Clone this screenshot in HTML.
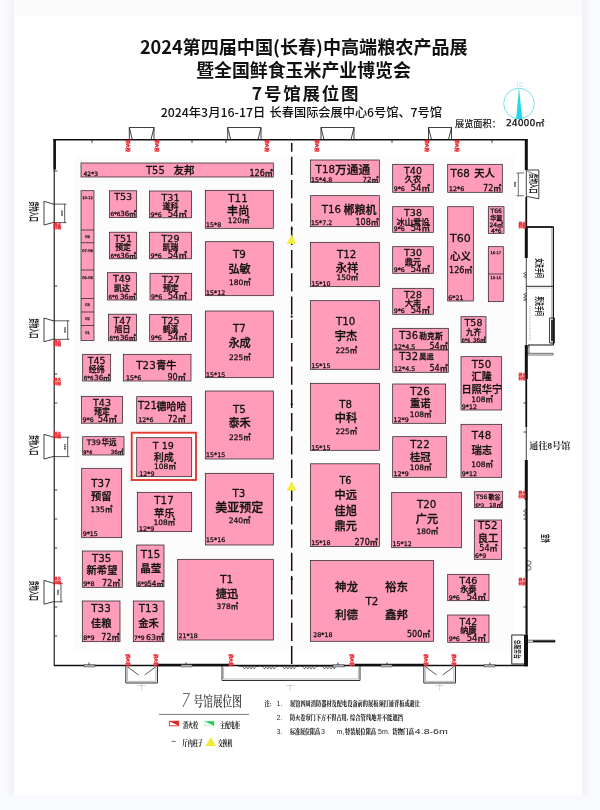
<!DOCTYPE html>
<html lang="zh-CN"><head><meta charset="utf-8"><title>7号馆展位图</title>
<style>
html,body{margin:0;padding:0;background:#f9fafe;}
body{width:600px;height:810px;overflow:hidden;position:relative;font-family:'DejaVu Sans','Liberation Sans','Noto Sans CJK SC',sans-serif;}
.panel{position:absolute;left:14px;top:0;width:568px;height:794.5px;background:#fff;}
.shl{position:absolute;left:5px;top:0;width:9px;height:794.5px;background:linear-gradient(to right,rgba(120,125,140,0),rgba(120,125,140,.065));}
.shr{position:absolute;left:582px;top:0;width:9px;height:794.5px;background:linear-gradient(to left,rgba(120,125,140,0),rgba(120,125,140,.065));}
.strip{position:absolute;left:14px;top:0;width:568px;height:16px;background:#fbfbfb;}
.hall{position:absolute;left:73.5px;top:155px;width:440px;height:496px;background:#fdfcfc;}
svg{position:absolute;left:0;top:0;will-change:transform;}
svg{font-family:'DejaVu Sans','Liberation Sans','Noto Sans CJK SC',sans-serif;}
#booths text{stroke:#111;stroke-width:.26px;font-weight:500;}
</style></head><body>
<div class="shl"></div><div class="shr"></div><div class="panel"></div><div class="strip"></div><div class="hall"></div>
<svg width="600" height="810" viewBox="0 0 600 810">
<g id="structure">
<path d="M53.3,139.7 H527.8 " stroke="#111" stroke-width="1.5" fill="none"/>
<path d="M54.2,139.6 V666" stroke="#111" stroke-width="1.1" fill="none"/>
<path d="M54.7,139.2 V169.5" stroke="#111" stroke-width="2.5" fill="none"/>
<path d="M54,665.5 H526.5" stroke="#111" stroke-width="1.3" fill="none"/>
<path d="M526.3,139.6 V666" stroke="#111" stroke-width="0.8" fill="none"/>
<path d="M526.3,139.4 V170 M526.3,227 V258 M526.3,345 V379 M526.3,460 V500" stroke="#111" stroke-width="3.0" fill="none"/>
<path d="M526.3,379 V427 M526.3,197 V227" stroke="#111" stroke-width="1.7" fill="none"/>
<path d="M526.6,500 V666.2" stroke="#111" stroke-width="2.1" fill="none"/>
<path d="M157.5,665 H229 M355,665 H424" stroke="#111" stroke-width="2.4" fill="none"/>
<path d="M129.3,139.6 V127.5 H154 V139.6 M129.3,127.5 L132.3,139.6 M154,127.5 L151,139.6" stroke="#111" stroke-width="0.8" fill="none"/>
<path d="M227.7,139.6 V127.5 H261 V139.6 M227.7,127.5 L230.7,139.6 M261,127.5 L258,139.6" stroke="#111" stroke-width="0.8" fill="none"/>
<path d="M321,139.6 V127.5 H354 V139.6 M321,127.5 L324,139.6 M354,127.5 L351,139.6" stroke="#111" stroke-width="0.8" fill="none"/>
<path d="M428.5,139.6 V127.5 H451.5 V139.6 M428.5,127.5 L431.5,139.6 M451.5,127.5 L448.5,139.6" stroke="#111" stroke-width="0.8" fill="none"/>
<line x1="92.00" y1="140.00" x2="92.00" y2="143.00" stroke="#111" stroke-width="0.8"/>
<line x1="192.00" y1="140.00" x2="192.00" y2="143.00" stroke="#111" stroke-width="0.8"/>
<line x1="226.00" y1="140.00" x2="226.00" y2="143.00" stroke="#111" stroke-width="0.8"/>
<line x1="392.00" y1="140.00" x2="392.00" y2="143.00" stroke="#111" stroke-width="0.8"/>
<line x1="492.00" y1="140.00" x2="492.00" y2="143.00" stroke="#111" stroke-width="0.8"/>
<line x1="54.30" y1="171.00" x2="57.30" y2="171.00" stroke="#111" stroke-width="0.8"/>
<line x1="54.30" y1="286.00" x2="57.30" y2="286.00" stroke="#111" stroke-width="0.8"/>
<line x1="54.30" y1="374.00" x2="57.30" y2="374.00" stroke="#111" stroke-width="0.8"/>
<line x1="54.30" y1="403.00" x2="57.30" y2="403.00" stroke="#111" stroke-width="0.8"/>
<line x1="54.30" y1="490.00" x2="57.30" y2="490.00" stroke="#111" stroke-width="0.8"/>
<line x1="54.30" y1="519.00" x2="57.30" y2="519.00" stroke="#111" stroke-width="0.8"/>
<line x1="54.30" y1="548.00" x2="57.30" y2="548.00" stroke="#111" stroke-width="0.8"/>
<line x1="54.30" y1="607.00" x2="57.30" y2="607.00" stroke="#111" stroke-width="0.8"/>
<line x1="54.30" y1="636.00" x2="57.30" y2="636.00" stroke="#111" stroke-width="0.8"/>
<line x1="523.50" y1="300.00" x2="526.30" y2="300.00" stroke="#111" stroke-width="0.8"/>
<line x1="523.50" y1="403.00" x2="526.30" y2="403.00" stroke="#111" stroke-width="0.8"/>
<line x1="523.50" y1="432.00" x2="526.30" y2="432.00" stroke="#111" stroke-width="0.8"/>
<line x1="523.50" y1="519.00" x2="526.30" y2="519.00" stroke="#111" stroke-width="0.8"/>
<line x1="523.50" y1="548.00" x2="526.30" y2="548.00" stroke="#111" stroke-width="0.8"/>
<line x1="523.50" y1="607.00" x2="526.30" y2="607.00" stroke="#111" stroke-width="0.8"/>
<line x1="89.00" y1="662.50" x2="89.00" y2="665.50" stroke="#111" stroke-width="0.8"/>
<line x1="186.00" y1="662.50" x2="186.00" y2="665.50" stroke="#111" stroke-width="0.8"/>
<line x1="338.00" y1="662.50" x2="338.00" y2="665.50" stroke="#111" stroke-width="0.8"/>
<line x1="387.00" y1="662.50" x2="387.00" y2="665.50" stroke="#111" stroke-width="0.8"/>
<line x1="490.00" y1="662.50" x2="490.00" y2="665.50" stroke="#111" stroke-width="0.8"/>
<path d="M54,204.3 L44,201.3 V225 L54,222.3" stroke="#111" stroke-width="0.8" fill="none"/>
<path d="M54,204.10000000000002 H66.4 M54,222.6 H66.4 M64.7,204.10000000000002 V222.6" stroke="#111" stroke-width="0.7" fill="none"/>
<text transform="translate(30.4,211.6) rotate(90) scale(0.48,1)" font-size="10.5" text-anchor="middle" font-family="'Noto Sans CJK SC',sans-serif" fill="#222" font-weight="700">货物入口</text>
<text transform="translate(61.1,213.2) rotate(90)" font-size="2.8" text-anchor="middle" fill="#222" font-weight="700">600</text>
<path d="M54,321 L44,318 V341.7 L54,339.0" stroke="#111" stroke-width="0.8" fill="none"/>
<path d="M54,320.8 H69.4 M54,339.3 H69.4 M67.7,320.8 V339.3" stroke="#111" stroke-width="0.7" fill="none"/>
<text transform="translate(30.4,328.2) rotate(90) scale(0.48,1)" font-size="10.5" text-anchor="middle" font-family="'Noto Sans CJK SC',sans-serif" fill="#222" font-weight="700">货物入口</text>
<text transform="translate(64.10000000000001,329.9) rotate(90)" font-size="2.8" text-anchor="middle" fill="#222" font-weight="700">600</text>
<path d="M54,437.4 L44,434.4 V459 L54,456.3" stroke="#111" stroke-width="0.8" fill="none"/>
<path d="M54,437.2 H69.4 M54,456.6 H69.4 M67.7,437.2 V456.6" stroke="#111" stroke-width="0.7" fill="none"/>
<text transform="translate(30.4,445.1) rotate(90) scale(0.48,1)" font-size="10.5" text-anchor="middle" font-family="'Noto Sans CJK SC',sans-serif" fill="#222" font-weight="700">货物入口</text>
<text transform="translate(64.10000000000001,446.7) rotate(90)" font-size="2.8" text-anchor="middle" fill="#222" font-weight="700">600</text>
<path d="M54,583.4 L44,580.4 V604.2 L54,601.5" stroke="#111" stroke-width="0.8" fill="none"/>
<path d="M54,583.1999999999999 H62.7 M54,601.8000000000001 H62.7 M61,583.1999999999999 V601.8000000000001" stroke="#111" stroke-width="0.7" fill="none"/>
<text transform="translate(30.4,590.7) rotate(90) scale(0.48,1)" font-size="10.5" text-anchor="middle" font-family="'Noto Sans CJK SC',sans-serif" fill="#222" font-weight="700">货物入口</text>
<text transform="translate(57.4,592.3) rotate(90)" font-size="2.8" text-anchor="middle" fill="#222" font-weight="700">600</text>
<path d="M527,170 H538.8 V198.7 L527,196.5" stroke="#111" stroke-width="0.8" fill="none"/>
<path d="M527.5,171.5 L538.8,176" stroke="#111" stroke-width="0.6" fill="none"/>
<path d="M524,173 H516.5 M524,195.8 H516.5 M518.3,173 V195.8" stroke="#333" stroke-width="0.7" fill="none"/>
<text transform="translate(529.8,183.6) rotate(90) scale(0.55,1)" font-size="9" text-anchor="middle" font-family="'Noto Sans CJK SC',sans-serif" fill="#222" font-weight="700">货物入口</text>
<text transform="translate(514.3,184.3) rotate(90)" font-size="2.8" text-anchor="middle" fill="#222" font-weight="700">600</text>
<path d="M526.3,227 H553.5" stroke="#111" stroke-width="1.8" fill="none"/>
<path d="M553.5,227 V345 H528" stroke="#111" stroke-width="1.0" fill="none"/>
<path d="M552,228 V345" stroke="#666" stroke-width="0.8" fill="none"/>
<path d="M526.3,286.3 H553.5" stroke="#111" stroke-width="0.9" fill="none"/>
<path d="M529,288 H551" stroke="#555" stroke-width="0.5" fill="none" stroke-dasharray="1 1.2"/>
<path d="M530,306 V340" stroke="#444" stroke-width="0.5" fill="none" stroke-dasharray="1 1.2"/>
<path d="M549.5,318 H554.5 V343 H549.5 Z" stroke="#111" stroke-width="0.8" fill="none"/>
<path d="M552,320 V341" stroke="#111" stroke-width="1.6" fill="none"/>
<path d="M526.3,353.3 H553 M526.3,355 H553 M553,353.3 V355" stroke="#111" stroke-width="0.6" fill="none"/>
<path d="M526.3,345 V353 M529,345 V353 M526.3,349 L529,346" stroke="#111" stroke-width="0.6" fill="none"/>
<text transform="translate(535.6,268.0) rotate(90) scale(0.57,1)" font-size="8.6" text-anchor="middle" font-family="'Noto Sans CJK SC',sans-serif" fill="#222" font-weight="700">女洗手间</text>
<text transform="translate(535.6,306.0) rotate(90) scale(0.57,1)" font-size="8.6" text-anchor="middle" font-family="'Noto Sans CJK SC',sans-serif" fill="#222" font-weight="700">男洗手间</text>
<path d="M526.3,272 L523.6,273.5 L526.3,275 L523.6,276.5 L526.3,278" stroke="#111" stroke-width="0.6" fill="none" fill="none"/>
<path d="M526.3,293 L523.6,294.5 L526.3,296 L523.6,297.5 L526.3,299" stroke="#111" stroke-width="0.6" fill="none" fill="none"/>
<path d="M526.3,509 L523.5,511 L526.3,513 L523.5,515 L526.3,517" stroke="#111" stroke-width="0.6" fill="none"/>
<path d="M526.3,561 H529 a2,2 0 0 1 0,4 H526.3 M526.3,566 H529 a2,2 0 0 1 0,4 H526.3" stroke="#111" stroke-width="0.6" fill="none"/>
<text x="529.30" y="448.60" font-size="9.1" font-family="'Liberation Serif','Noto Serif CJK SC',serif" font-weight="700" fill="#222">通往8号馆</text>
<text transform="translate(541.8,538.4) rotate(90) scale(0.52,1)" font-size="8.6" text-anchor="middle" font-family="'Noto Sans CJK SC',sans-serif" fill="#222" font-weight="700">室外</text>
<rect x="511.80" y="635.00" width="12.70" height="29.00" fill="#fff" stroke="#111" stroke-width="0.9"/>
<path d="M526,635 V666.3" stroke="#111" stroke-width="4" fill="none"/>
<text transform="translate(515,649.2) rotate(90) scale(0.64,1)" font-size="7.4" text-anchor="middle" font-family="'Noto Sans CJK SC',sans-serif" fill="#222" font-weight="700">总服务台</text>
<path d="M528,640.2 H555 V642.2 H528" stroke="#111" stroke-width="0.6" fill="none"/>
<path d="M533,641.2 H555" stroke="#111" stroke-width="1.6" fill="none"/>
<path d="M125.8,666 V683 H157.5 V666" stroke="#333" stroke-width="1.0" fill="none"/>
<path d="M127.39999999999999,666 V681.4 H155.9 V666" stroke="#999" stroke-width="0.7" fill="none"/>
<path d="M127.8,667 L138.65,675 M155.5,667 L144.65,675" stroke="#111" stroke-width="0.7" fill="none"/>
<path d="M141.65,684 V691 M137.65,685.5 H145.65" stroke="#bbb" stroke-width="0.6" fill="none"/>
<path d="M423.8,666 V683 H455.5 V666" stroke="#333" stroke-width="1.0" fill="none"/>
<path d="M425.40000000000003,666 V681.4 H453.9 V666" stroke="#999" stroke-width="0.7" fill="none"/>
<path d="M425.8,667 L436.65,675 M453.5,667 L442.65,675" stroke="#111" stroke-width="0.7" fill="none"/>
<path d="M439.65,684 V691 M435.65,685.5 H443.65" stroke="#bbb" stroke-width="0.6" fill="none"/>
<path d="M222,666 V680.5 H360 V666" stroke="#333" stroke-width="1.0" fill="none"/>
<path d="M223.6,667.5 V679 H358.4 V667.5" stroke="#999" stroke-width="0.7" fill="none"/>
<path d="M290,684 V691 M286,685.5 H294" stroke="#bbb" stroke-width="0.6" fill="none"/>
<path d="M241,666.5 H243 l1.6,2.6 l1.6,-2.6 l1.6,2.6 l1.6,-2.6 l1.6,2.6 l1.6,-2.6 l1.6,2.6 l1.6,-2.6 H259" stroke="#111" stroke-width="0.55" fill="none"/>
<path d="M261,666.5 H263 l1.6,2.6 l1.6,-2.6 l1.6,2.6 l1.6,-2.6 l1.6,2.6 l1.6,-2.6 l1.6,2.6 l1.6,-2.6 H279" stroke="#111" stroke-width="0.55" fill="none"/>
<path d="M281,666.5 H283 l1.6,2.6 l1.6,-2.6 l1.6,2.6 l1.6,-2.6 l1.6,2.6 l1.6,-2.6 l1.6,2.6 l1.6,-2.6 H299" stroke="#111" stroke-width="0.55" fill="none"/>
<path d="M301,666.5 H303 l1.6,2.6 l1.6,-2.6 l1.6,2.6 l1.6,-2.6 l1.6,2.6 l1.6,-2.6 l1.6,2.6 l1.6,-2.6 H319" stroke="#111" stroke-width="0.55" fill="none"/>
<path d="M321,666.5 H323 l1.6,2.6 l1.6,-2.6 l1.6,2.6 l1.6,-2.6 l1.6,2.6 l1.6,-2.6 l1.6,2.6 l1.6,-2.6 H339" stroke="#111" stroke-width="0.55" fill="none"/>
<path d="M238,666.3 H345" stroke="#111" stroke-width="0.6" fill="none"/>
<rect x="84.00" y="664.80" width="11.00" height="2.20" fill="#aaa" stroke="#333" stroke-width="0.4"/>
<rect x="181.00" y="664.80" width="11.00" height="2.20" fill="#aaa" stroke="#333" stroke-width="0.4"/>
<rect x="333.00" y="664.80" width="11.00" height="2.20" fill="#aaa" stroke="#333" stroke-width="0.4"/>
<rect x="381.00" y="664.80" width="11.00" height="2.20" fill="#aaa" stroke="#333" stroke-width="0.4"/>
<rect x="484.00" y="664.80" width="11.00" height="2.20" fill="#aaa" stroke="#333" stroke-width="0.4"/>
<path d="M291.7,143 V664" stroke="#111" stroke-width="1.5" fill="none" stroke-dasharray="18.3 5" stroke-dashoffset="9.6"/>
<circle cx="291.7" cy="229" r="1.1" fill="#111"/>
<circle cx="291.7" cy="316.7" r="1.1" fill="#111"/>
<circle cx="291.7" cy="404.3" r="1.1" fill="#111"/>
<circle cx="291.7" cy="579" r="1.1" fill="#111"/>
<path d="M286.8,243.70000000000002 L291.5,234.9 L296.2,243.70000000000002 Z" stroke="#f2ea35" stroke-width="0.3" fill="#f5ee3a"/>
<path d="M286.8,490.4 L291.5,481.6 L296.2,490.4 Z" stroke="#f2ea35" stroke-width="0.3" fill="#f5ee3a"/>
<text transform="translate(126.2,139.5) rotate(90)" font-size="4.1" font-family="'Liberation Serif','Noto Serif CJK SC',serif" font-weight="900" fill="#e8202a" stroke="#e8202a" stroke-width="0.3">消火栓</text>
<text transform="translate(154.7,139.5) rotate(90)" font-size="4.1" font-family="'Liberation Serif','Noto Serif CJK SC',serif" font-weight="900" fill="#e8202a" stroke="#e8202a" stroke-width="0.3">消火栓</text>
<text transform="translate(265.2,139.5) rotate(90)" font-size="4.1" font-family="'Liberation Serif','Noto Serif CJK SC',serif" font-weight="900" fill="#e8202a" stroke="#e8202a" stroke-width="0.3">消火栓</text>
<text transform="translate(314.7,139.5) rotate(90)" font-size="4.1" font-family="'Liberation Serif','Noto Serif CJK SC',serif" font-weight="900" fill="#e8202a" stroke="#e8202a" stroke-width="0.3">消火栓</text>
<text transform="translate(424.7,139.5) rotate(90)" font-size="4.1" font-family="'Liberation Serif','Noto Serif CJK SC',serif" font-weight="900" fill="#e8202a" stroke="#e8202a" stroke-width="0.3">消火栓</text>
<text transform="translate(454.7,139.5) rotate(90)" font-size="4.1" font-family="'Liberation Serif','Noto Serif CJK SC',serif" font-weight="900" fill="#e8202a" stroke="#e8202a" stroke-width="0.3">消火栓</text>
<text transform="translate(126.2,654) rotate(90)" font-size="4.1" font-family="'Liberation Serif','Noto Serif CJK SC',serif" font-weight="900" fill="#e8202a" stroke="#e8202a" stroke-width="0.3">消火栓</text>
<text transform="translate(154.2,654) rotate(90)" font-size="4.1" font-family="'Liberation Serif','Noto Serif CJK SC',serif" font-weight="900" fill="#e8202a" stroke="#e8202a" stroke-width="0.3">消火栓</text>
<text transform="translate(229.2,654) rotate(90)" font-size="4.1" font-family="'Liberation Serif','Noto Serif CJK SC',serif" font-weight="900" fill="#e8202a" stroke="#e8202a" stroke-width="0.3">消火栓</text>
<text transform="translate(350.2,654) rotate(90)" font-size="4.1" font-family="'Liberation Serif','Noto Serif CJK SC',serif" font-weight="900" fill="#e8202a" stroke="#e8202a" stroke-width="0.3">消火栓</text>
<text transform="translate(424.2,654) rotate(90)" font-size="4.1" font-family="'Liberation Serif','Noto Serif CJK SC',serif" font-weight="900" fill="#e8202a" stroke="#e8202a" stroke-width="0.3">消火栓</text>
<text transform="translate(452.2,654) rotate(90)" font-size="4.1" font-family="'Liberation Serif','Noto Serif CJK SC',serif" font-weight="900" fill="#e8202a" stroke="#e8202a" stroke-width="0.3">消火栓</text>
<text x="57.2" y="225.8" font-size="3.7" font-family="'Liberation Serif','Noto Serif CJK SC',serif" font-weight="900" fill="#e8202a" stroke="#e8202a" stroke-width="0.25" text-anchor="middle">消火</text>
<text x="57.2" y="229.4" font-size="3.7" font-family="'Liberation Serif','Noto Serif CJK SC',serif" font-weight="900" fill="#e8202a" stroke="#e8202a" stroke-width="0.25" text-anchor="middle">栓箱</text>
<text x="57.2" y="342.6" font-size="3.7" font-family="'Liberation Serif','Noto Serif CJK SC',serif" font-weight="900" fill="#e8202a" stroke="#e8202a" stroke-width="0.25" text-anchor="middle">消火</text>
<text x="57.2" y="346.20000000000005" font-size="3.7" font-family="'Liberation Serif','Noto Serif CJK SC',serif" font-weight="900" fill="#e8202a" stroke="#e8202a" stroke-width="0.25" text-anchor="middle">栓箱</text>
<text x="57.2" y="381.3" font-size="3.7" font-family="'Liberation Serif','Noto Serif CJK SC',serif" font-weight="900" fill="#e8202a" stroke="#e8202a" stroke-width="0.25" text-anchor="middle">消火</text>
<text x="57.2" y="384.90000000000003" font-size="3.7" font-family="'Liberation Serif','Noto Serif CJK SC',serif" font-weight="900" fill="#e8202a" stroke="#e8202a" stroke-width="0.25" text-anchor="middle">栓箱</text>
<text x="57.2" y="434.8" font-size="3.7" font-family="'Liberation Serif','Noto Serif CJK SC',serif" font-weight="900" fill="#e8202a" stroke="#e8202a" stroke-width="0.25" text-anchor="middle">消火</text>
<text x="57.2" y="438.40000000000003" font-size="3.7" font-family="'Liberation Serif','Noto Serif CJK SC',serif" font-weight="900" fill="#e8202a" stroke="#e8202a" stroke-width="0.25" text-anchor="middle">栓箱</text>
<text x="57.2" y="580.3" font-size="3.7" font-family="'Liberation Serif','Noto Serif CJK SC',serif" font-weight="900" fill="#e8202a" stroke="#e8202a" stroke-width="0.25" text-anchor="middle">消火</text>
<text x="57.2" y="583.9" font-size="3.7" font-family="'Liberation Serif','Noto Serif CJK SC',serif" font-weight="900" fill="#e8202a" stroke="#e8202a" stroke-width="0.25" text-anchor="middle">栓箱</text>
<text x="522.3" y="224.5" font-size="3.7" font-family="'Liberation Serif','Noto Serif CJK SC',serif" font-weight="900" fill="#e8202a" stroke="#e8202a" stroke-width="0.25" text-anchor="middle">消火</text>
<text x="522.3" y="228.1" font-size="3.7" font-family="'Liberation Serif','Noto Serif CJK SC',serif" font-weight="900" fill="#e8202a" stroke="#e8202a" stroke-width="0.25" text-anchor="middle">栓箱</text>
<text x="522.3" y="376" font-size="3.7" font-family="'Liberation Serif','Noto Serif CJK SC',serif" font-weight="900" fill="#e8202a" stroke="#e8202a" stroke-width="0.25" text-anchor="middle">消火</text>
<text x="522.3" y="379.6" font-size="3.7" font-family="'Liberation Serif','Noto Serif CJK SC',serif" font-weight="900" fill="#e8202a" stroke="#e8202a" stroke-width="0.25" text-anchor="middle">栓箱</text>
<text x="522.3" y="494" font-size="3.7" font-family="'Liberation Serif','Noto Serif CJK SC',serif" font-weight="900" fill="#e8202a" stroke="#e8202a" stroke-width="0.25" text-anchor="middle">消火</text>
<text x="522.3" y="497.6" font-size="3.7" font-family="'Liberation Serif','Noto Serif CJK SC',serif" font-weight="900" fill="#e8202a" stroke="#e8202a" stroke-width="0.25" text-anchor="middle">栓箱</text>
<text x="522.3" y="581" font-size="3.7" font-family="'Liberation Serif','Noto Serif CJK SC',serif" font-weight="900" fill="#e8202a" stroke="#e8202a" stroke-width="0.25" text-anchor="middle">消火</text>
<text x="522.3" y="584.6" font-size="3.7" font-family="'Liberation Serif','Noto Serif CJK SC',serif" font-weight="900" fill="#e8202a" stroke="#e8202a" stroke-width="0.25" text-anchor="middle">栓箱</text>
</g>
<g id="booths">
<rect x="81.00" y="163.00" width="192.30" height="14.00" fill="#fe9cb9" stroke="#1a1a1a" stroke-width="0.7"/>
<text x="146.00" y="174.00" font-size="10" fill="#111">T55</text>
<text x="173.50" y="174.30" font-size="10.5" fill="#111">友邦</text>
<text x="83.50" y="176.00" font-size="6" fill="#111">42*3</text>
<text x="272.80" y="175.80" font-size="8" text-anchor="end" fill="#111">126㎡</text>
<rect x="81.00" y="190.70" width="13.00" height="149.80" fill="#fe9cb9" stroke="#1a1a1a" stroke-width="0.7"/>
<line x1="81.00" y1="230.00" x2="94.00" y2="230.00" stroke="#1a1a1a" stroke-width="0.7"/>
<line x1="81.00" y1="242.70" x2="94.00" y2="242.70" stroke="#1a1a1a" stroke-width="0.7"/>
<line x1="81.00" y1="270.00" x2="94.00" y2="270.00" stroke="#1a1a1a" stroke-width="0.7"/>
<line x1="81.00" y1="298.50" x2="94.00" y2="298.50" stroke="#1a1a1a" stroke-width="0.7"/>
<line x1="81.00" y1="312.00" x2="94.00" y2="312.00" stroke="#1a1a1a" stroke-width="0.7"/>
<line x1="81.00" y1="325.50" x2="94.00" y2="325.50" stroke="#1a1a1a" stroke-width="0.7"/>
<text x="87.50" y="199.00" font-size="3.6" text-anchor="middle" fill="#333">10-12</text>
<text x="87.50" y="237.60" font-size="3.6" text-anchor="middle" fill="#333">09</text>
<text x="87.50" y="252.00" font-size="3.6" text-anchor="middle" fill="#333">07-08</text>
<text x="87.50" y="278.60" font-size="3.6" text-anchor="middle" fill="#333">05-06</text>
<text x="87.50" y="306.30" font-size="3.6" text-anchor="middle" fill="#333">03</text>
<text x="87.50" y="319.80" font-size="3.6" text-anchor="middle" fill="#333">02</text>
<text x="87.50" y="334.00" font-size="3.6" text-anchor="middle" fill="#333">01</text>
<rect x="109.50" y="190.80" width="27.20" height="26.70" fill="#fe9cb9" stroke="#1a1a1a" stroke-width="0.7"/>
<text x="123.10" y="200.30" font-size="9.5" text-anchor="middle" fill="#111">T53</text>
<text x="110.50" y="216.40" font-size="5.6" fill="#111">6*6</text>
<text x="136.10" y="216.40" font-size="7.0" text-anchor="end" fill="#111">36㎡</text>
<rect x="109.50" y="232.20" width="27.20" height="26.60" fill="#fe9cb9" stroke="#1a1a1a" stroke-width="0.7"/>
<text x="123.10" y="241.70" font-size="9.5" text-anchor="middle" fill="#111">T51</text>
<text x="123.10" y="250.00" font-size="7.9" text-anchor="middle" fill="#111">预定</text>
<text x="110.50" y="257.70" font-size="5.6" fill="#111">6*6</text>
<text x="136.10" y="257.70" font-size="7.0" text-anchor="end" fill="#111">36㎡</text>
<rect x="107.50" y="272.70" width="28.90" height="27.30" fill="#fe9cb9" stroke="#1a1a1a" stroke-width="0.7"/>
<text x="121.95" y="282.20" font-size="9.5" text-anchor="middle" fill="#111">T49</text>
<text x="121.95" y="290.50" font-size="7.9" text-anchor="middle" fill="#111">凯达</text>
<text x="108.50" y="298.90" font-size="5.6" fill="#111">6*6</text>
<text x="135.80" y="298.90" font-size="7.0" text-anchor="end" fill="#111">36㎡</text>
<rect x="108.50" y="314.20" width="27.90" height="26.60" fill="#fe9cb9" stroke="#1a1a1a" stroke-width="0.7"/>
<text x="122.45" y="323.70" font-size="9.5" text-anchor="middle" fill="#111">T47</text>
<text x="122.45" y="332.00" font-size="7.9" text-anchor="middle" fill="#111">旭日</text>
<text x="109.50" y="339.70" font-size="5.6" fill="#111">6*6</text>
<text x="135.80" y="339.70" font-size="7.0" text-anchor="end" fill="#111">36㎡</text>
<rect x="82.70" y="354.30" width="28.00" height="26.70" fill="#fe9cb9" stroke="#1a1a1a" stroke-width="0.7"/>
<text x="96.70" y="363.80" font-size="9.5" text-anchor="middle" fill="#111">T45</text>
<text x="96.70" y="372.10" font-size="7.9" text-anchor="middle" fill="#111">经纬</text>
<text x="83.70" y="379.90" font-size="5.6" fill="#111">6*6</text>
<text x="110.10" y="379.90" font-size="7.0" text-anchor="end" fill="#111">36㎡</text>
<rect x="149.50" y="191.00" width="42.00" height="26.80" fill="#fe9cb9" stroke="#1a1a1a" stroke-width="0.7"/>
<text x="170.50" y="200.50" font-size="9.5" text-anchor="middle" fill="#111">T31</text>
<text x="170.50" y="208.80" font-size="7.9" text-anchor="middle" fill="#111">道科</text>
<text x="150.50" y="216.70" font-size="6.3" fill="#111">9*6</text>
<text x="187.00" y="216.70" font-size="8.5" text-anchor="end" fill="#111">54㎡</text>
<rect x="149.50" y="232.20" width="42.00" height="26.60" fill="#fe9cb9" stroke="#1a1a1a" stroke-width="0.7"/>
<text x="170.50" y="241.70" font-size="9.5" text-anchor="middle" fill="#111">T29</text>
<text x="170.50" y="250.00" font-size="7.9" text-anchor="middle" fill="#111">凯瑞</text>
<text x="150.50" y="257.70" font-size="6.3" fill="#111">9*6</text>
<text x="187.00" y="257.70" font-size="8.5" text-anchor="end" fill="#111">54㎡</text>
<rect x="150.00" y="273.30" width="41.70" height="26.70" fill="#fe9cb9" stroke="#1a1a1a" stroke-width="0.7"/>
<text x="170.85" y="282.80" font-size="9.5" text-anchor="middle" fill="#111">T27</text>
<text x="170.85" y="291.10" font-size="7.9" text-anchor="middle" fill="#111">预定</text>
<text x="151.00" y="298.90" font-size="6.3" fill="#111">9*6</text>
<text x="187.00" y="298.90" font-size="8.5" text-anchor="end" fill="#111">54㎡</text>
<rect x="149.70" y="314.60" width="41.80" height="26.90" fill="#fe9cb9" stroke="#1a1a1a" stroke-width="0.7"/>
<text x="170.60" y="324.10" font-size="9.5" text-anchor="middle" fill="#111">T25</text>
<text x="170.60" y="332.40" font-size="7.9" text-anchor="middle" fill="#111">鹤溪</text>
<text x="150.70" y="340.40" font-size="6.3" fill="#111">9*6</text>
<text x="187.00" y="340.40" font-size="8.5" text-anchor="end" fill="#111">54㎡</text>
<rect x="123.30" y="354.30" width="67.70" height="26.70" fill="#fe9cb9" stroke="#1a1a1a" stroke-width="0.7"/>
<text x="136.30" y="369.00" font-size="10.3" fill="#111">T23</text>
<text x="156.20" y="369.30" font-size="10.2" fill="#111">青牛</text>
<text x="126.00" y="380.00" font-size="6.3" fill="#111">15*6</text>
<text x="185.70" y="380.00" font-size="8" text-anchor="end" fill="#111">90㎡</text>
<rect x="81.50" y="396.30" width="41.00" height="26.90" fill="#fe9cb9" stroke="#1a1a1a" stroke-width="0.7"/>
<text x="102.00" y="405.80" font-size="9.5" text-anchor="middle" fill="#111">T43</text>
<text x="102.00" y="414.10" font-size="7.9" text-anchor="middle" fill="#111">预定</text>
<text x="82.50" y="422.10" font-size="6.3" fill="#111">9*6</text>
<text x="117.00" y="422.10" font-size="8.5" text-anchor="end" fill="#111">54㎡</text>
<rect x="136.70" y="396.70" width="55.00" height="26.60" fill="#fe9cb9" stroke="#1a1a1a" stroke-width="0.7"/>
<text x="138.00" y="409.30" font-size="10" fill="#111">T21</text>
<text x="156.50" y="409.50" font-size="10" fill="#111">德哈哈</text>
<text x="138.30" y="422.30" font-size="6.3" fill="#111">12*6</text>
<text x="185.70" y="422.30" font-size="8" text-anchor="end" fill="#111">72㎡</text>
<rect x="82.70" y="436.70" width="41.30" height="18.30" fill="#fe9cb9" stroke="#1a1a1a" stroke-width="0.7"/>
<text x="86.70" y="445.00" font-size="7.5" fill="#111">T39</text>
<text x="101.50" y="445.20" font-size="7.5" fill="#111">华远</text>
<text x="83.30" y="454.00" font-size="5" fill="#111">9*4</text>
<text x="123.40" y="454.00" font-size="5.6" text-anchor="end" fill="#111">36㎡</text>
<rect x="136.70" y="437.70" width="55.00" height="39.00" fill="#fe9cb9" stroke="#1a1a1a" stroke-width="0.7"/>
<text x="163.30" y="449.30" font-size="9.5" text-anchor="middle" fill="#111">T 19</text>
<text x="163.80" y="460.50" font-size="10" text-anchor="middle" fill="#111">利成</text>
<text x="165.00" y="469.00" font-size="7.5" text-anchor="middle" fill="#111">108㎡</text>
<text x="139.30" y="475.70" font-size="6.3" fill="#111">12*9</text>
<rect x="131.7" y="432.7" width="64.3" height="47.3" fill="none" stroke="#e23a30" stroke-width="1.9"/>
<rect x="81.70" y="468.30" width="40.00" height="69.40" fill="#fe9cb9" stroke="#1a1a1a" stroke-width="0.7"/>
<text x="101.00" y="486.70" font-size="10.3" text-anchor="middle" fill="#111">T37</text>
<text x="101.30" y="500.00" font-size="10.3" text-anchor="middle" fill="#111">预留</text>
<text x="101.50" y="511.70" font-size="7.5" text-anchor="middle" fill="#111">135㎡</text>
<text x="82.70" y="535.70" font-size="6.3" fill="#111">9*15</text>
<rect x="137.30" y="492.30" width="54.40" height="39.40" fill="#fe9cb9" stroke="#1a1a1a" stroke-width="0.7"/>
<text x="164.00" y="504.30" font-size="10.3" text-anchor="middle" fill="#111">T17</text>
<text x="164.30" y="516.50" font-size="10.3" text-anchor="middle" fill="#111">苹乐</text>
<text x="164.30" y="525.00" font-size="7.5" text-anchor="middle" fill="#111">108㎡</text>
<text x="139.00" y="531.00" font-size="6.3" fill="#111">12*9</text>
<rect x="82.30" y="551.00" width="40.00" height="36.30" fill="#fe9cb9" stroke="#1a1a1a" stroke-width="0.7"/>
<text x="101.70" y="562.30" font-size="10.3" text-anchor="middle" fill="#111">T35</text>
<text x="102.00" y="574.00" font-size="10.3" text-anchor="middle" fill="#111">新希望</text>
<text x="83.30" y="585.70" font-size="6.3" fill="#111">9*8</text>
<text x="120.30" y="585.70" font-size="8" text-anchor="end" fill="#111">72㎡</text>
<rect x="136.70" y="545.00" width="27.30" height="41.70" fill="#fe9cb9" stroke="#1a1a1a" stroke-width="0.7"/>
<text x="150.50" y="558.30" font-size="10.3" text-anchor="middle" fill="#111">T15</text>
<text x="150.70" y="571.70" font-size="10.5" text-anchor="middle" fill="#111">晶莹</text>
<text x="137.30" y="585.70" font-size="6" fill="#111">6*9</text>
<text x="163.80" y="585.70" font-size="7.3" text-anchor="end" fill="#111">54㎡</text>
<rect x="82.30" y="601.00" width="37.70" height="40.70" fill="#fe9cb9" stroke="#1a1a1a" stroke-width="0.7"/>
<text x="101.00" y="612.30" font-size="10.3" text-anchor="middle" fill="#111">T33</text>
<text x="101.30" y="626.50" font-size="10.3" text-anchor="middle" fill="#111">佳粮</text>
<text x="83.30" y="640.00" font-size="6.3" fill="#111">8*9</text>
<text x="119.50" y="640.00" font-size="8" text-anchor="end" fill="#111">72㎡</text>
<rect x="133.30" y="601.00" width="30.70" height="40.70" fill="#fe9cb9" stroke="#1a1a1a" stroke-width="0.7"/>
<text x="148.50" y="612.30" font-size="10.3" text-anchor="middle" fill="#111">T13</text>
<text x="148.50" y="626.50" font-size="10.3" text-anchor="middle" fill="#111">金禾</text>
<text x="134.00" y="640.00" font-size="6" fill="#111">7*9</text>
<text x="163.80" y="640.00" font-size="7.8" text-anchor="end" fill="#111">63㎡</text>
<rect x="205.30" y="190.30" width="68.00" height="38.00" fill="#fe9cb9" stroke="#1a1a1a" stroke-width="0.7"/>
<text x="238.00" y="201.70" font-size="10.3" text-anchor="middle" fill="#111">T11</text>
<text x="238.30" y="214.70" font-size="11.2" text-anchor="middle" fill="#111">丰尚</text>
<text x="238.60" y="222.50" font-size="7.5" text-anchor="middle" fill="#111">120㎡</text>
<text x="206.10" y="227.40" font-size="6.3" fill="#111">15*8</text>
<rect x="205.30" y="241.70" width="68.00" height="54.00" fill="#fe9cb9" stroke="#1a1a1a" stroke-width="0.7"/>
<text x="239.30" y="258.30" font-size="10.3" text-anchor="middle" fill="#111">T9</text>
<text x="239.60" y="272.70" font-size="11.2" text-anchor="middle" fill="#111">弘敏</text>
<text x="239.90" y="285.00" font-size="7.5" text-anchor="middle" fill="#111">180㎡</text>
<text x="206.10" y="294.80" font-size="6.3" fill="#111">15*12</text>
<rect x="205.30" y="311.00" width="68.00" height="66.70" fill="#fe9cb9" stroke="#1a1a1a" stroke-width="0.7"/>
<text x="239.30" y="331.70" font-size="10.3" text-anchor="middle" fill="#111">T7</text>
<text x="239.60" y="347.30" font-size="11.2" text-anchor="middle" fill="#111">永成</text>
<text x="239.90" y="360.00" font-size="7.5" text-anchor="middle" fill="#111">225㎡</text>
<text x="206.10" y="376.80" font-size="6.3" fill="#111">15*15</text>
<rect x="205.30" y="391.00" width="68.00" height="68.00" fill="#fe9cb9" stroke="#1a1a1a" stroke-width="0.7"/>
<text x="239.30" y="412.70" font-size="10.3" text-anchor="middle" fill="#111">T5</text>
<text x="239.60" y="426.70" font-size="11.2" text-anchor="middle" fill="#111">泰禾</text>
<text x="239.90" y="440.00" font-size="7.5" text-anchor="middle" fill="#111">225㎡</text>
<text x="206.10" y="456.70" font-size="6.3" fill="#111">15*15</text>
<rect x="205.30" y="473.30" width="68.00" height="71.70" fill="#fe9cb9" stroke="#1a1a1a" stroke-width="0.7"/>
<text x="239.00" y="496.70" font-size="10.3" text-anchor="middle" fill="#111">T3</text>
<text x="239.30" y="511.50" font-size="12" text-anchor="middle" fill="#111">美亚预定</text>
<text x="239.60" y="523.30" font-size="7.5" text-anchor="middle" fill="#111">240㎡</text>
<text x="206.10" y="542.30" font-size="6.3" fill="#111">15*16</text>
<rect x="177.70" y="559.30" width="95.60" height="80.70" fill="#fe9cb9" stroke="#1a1a1a" stroke-width="0.7"/>
<text x="226.70" y="582.70" font-size="10.3" text-anchor="middle" fill="#111">T1</text>
<text x="227.00" y="597.50" font-size="11.2" text-anchor="middle" fill="#111">捷迅</text>
<text x="227.30" y="609.30" font-size="7.5" text-anchor="middle" fill="#111">378㎡</text>
<text x="178.50" y="637.70" font-size="6.3" fill="#111">21*18</text>
<rect x="310.50" y="160.00" width="68.80" height="22.30" fill="#fe9cb9" stroke="#1a1a1a" stroke-width="0.7"/>
<text x="315.60" y="173.30" font-size="10.3" fill="#111">T18</text>
<text x="335.00" y="173.50" font-size="11.7" fill="#111">万通通</text>
<text x="311.00" y="181.70" font-size="6.3" fill="#111">15*4.8</text>
<text x="378.50" y="181.70" font-size="7" text-anchor="end" fill="#111">72㎡</text>
<rect x="310.50" y="195.70" width="68.80" height="31.00" fill="#fe9cb9" stroke="#1a1a1a" stroke-width="0.7"/>
<text x="321.70" y="213.30" font-size="10.3" fill="#111">T16</text>
<text x="343.50" y="213.50" font-size="11" fill="#111">郴粮机</text>
<text x="311.00" y="225.30" font-size="6.3" fill="#111">15*7.2</text>
<text x="378.80" y="225.30" font-size="8" text-anchor="end" fill="#111">108㎡</text>
<rect x="310.50" y="242.30" width="68.80" height="44.40" fill="#fe9cb9" stroke="#1a1a1a" stroke-width="0.7"/>
<text x="346.70" y="257.70" font-size="10.3" text-anchor="middle" fill="#111">T12</text>
<text x="347.00" y="271.70" font-size="11.2" text-anchor="middle" fill="#111">永祥</text>
<text x="347.30" y="280.00" font-size="7.5" text-anchor="middle" fill="#111">150㎡</text>
<text x="311.30" y="285.80" font-size="6.3" fill="#111">15*10</text>
<rect x="310.50" y="300.70" width="69.00" height="68.60" fill="#fe9cb9" stroke="#1a1a1a" stroke-width="0.7"/>
<text x="345.70" y="325.00" font-size="10.3" text-anchor="middle" fill="#111">T10</text>
<text x="346.00" y="340.00" font-size="11.2" text-anchor="middle" fill="#111">宇杰</text>
<text x="346.30" y="352.70" font-size="7.5" text-anchor="middle" fill="#111">225㎡</text>
<text x="311.30" y="368.30" font-size="6.3" fill="#111">15*15</text>
<rect x="310.50" y="383.30" width="69.00" height="67.00" fill="#fe9cb9" stroke="#1a1a1a" stroke-width="0.7"/>
<text x="345.70" y="408.30" font-size="10.3" text-anchor="middle" fill="#111">T8</text>
<text x="346.00" y="422.30" font-size="11.2" text-anchor="middle" fill="#111">中科</text>
<text x="346.30" y="434.00" font-size="7.5" text-anchor="middle" fill="#111">225㎡</text>
<text x="311.30" y="449.60" font-size="6.3" fill="#111">15*15</text>
<rect x="310.50" y="463.80" width="69.00" height="82.70" fill="#fe9cb9" stroke="#1a1a1a" stroke-width="0.7"/>
<text x="345.50" y="483.50" font-size="9.8" text-anchor="middle" fill="#111">T6</text>
<text x="345.80" y="499.00" font-size="11.2" text-anchor="middle" fill="#111">中远</text>
<text x="345.80" y="515.00" font-size="11.2" text-anchor="middle" fill="#111">佳旭</text>
<text x="345.80" y="529.50" font-size="11.2" text-anchor="middle" fill="#111">鼎元</text>
<text x="311.30" y="544.90" font-size="6.3" fill="#111">15*18</text>
<text x="377.80" y="545.00" font-size="8" text-anchor="end" fill="#111">270㎡</text>
<rect x="310.50" y="560.50" width="123.00" height="80.80" fill="#fe9cb9" stroke="#1a1a1a" stroke-width="0.7"/>
<text x="335.00" y="590.70" font-size="11.5" fill="#111">神龙</text>
<text x="385.00" y="590.70" font-size="11.5" fill="#111">裕东</text>
<text x="372.00" y="605.00" font-size="10.3" text-anchor="middle" fill="#111">T2</text>
<text x="335.00" y="619.00" font-size="11.5" fill="#111">利德</text>
<text x="385.00" y="619.00" font-size="11.5" fill="#111">鑫邦</text>
<text x="313.30" y="636.70" font-size="6.3" fill="#111">28*18</text>
<text x="430.30" y="636.70" font-size="8" text-anchor="end" fill="#111">500㎡</text>
<rect x="392.70" y="164.30" width="40.60" height="28.00" fill="#fe9cb9" stroke="#1a1a1a" stroke-width="0.7"/>
<text x="413.00" y="173.80" font-size="9.5" text-anchor="middle" fill="#111">T40</text>
<text x="413.00" y="182.10" font-size="8.2" text-anchor="middle" fill="#111">久农</text>
<text x="393.70" y="191.20" font-size="6.3" fill="#111">9*6</text>
<text x="430.00" y="191.20" font-size="8.5" text-anchor="end" fill="#111">54㎡</text>
<rect x="447.70" y="164.30" width="54.60" height="28.00" fill="#fe9cb9" stroke="#1a1a1a" stroke-width="0.7"/>
<text x="450.50" y="176.70" font-size="10.3" fill="#111">T68</text>
<text x="474.30" y="177.00" font-size="10.3" fill="#111">天人</text>
<text x="449.00" y="191.00" font-size="6.3" fill="#111">12*6</text>
<text x="501.30" y="191.00" font-size="8" text-anchor="end" fill="#111">72㎡</text>
<rect x="392.70" y="206.70" width="40.60" height="25.60" fill="#fe9cb9" stroke="#1a1a1a" stroke-width="0.7"/>
<text x="413.00" y="216.20" font-size="9.5" text-anchor="middle" fill="#111">T38</text>
<text x="413.00" y="224.50" font-size="8.2" text-anchor="middle" fill="#111">冰山爱设</text>
<text x="393.70" y="231.20" font-size="6.3" fill="#111">9*6</text>
<text x="430.00" y="231.20" font-size="8.5" text-anchor="end" fill="#111">54㎡</text>
<rect x="392.70" y="246.70" width="40.60" height="26.60" fill="#fe9cb9" stroke="#1a1a1a" stroke-width="0.7"/>
<text x="413.00" y="256.20" font-size="9.5" text-anchor="middle" fill="#111">T30</text>
<text x="413.00" y="264.50" font-size="8.2" text-anchor="middle" fill="#111">鼎元</text>
<text x="393.70" y="272.20" font-size="6.3" fill="#111">9*6</text>
<text x="430.00" y="272.20" font-size="8.5" text-anchor="end" fill="#111">54㎡</text>
<rect x="392.70" y="288.30" width="40.60" height="26.00" fill="#fe9cb9" stroke="#1a1a1a" stroke-width="0.7"/>
<text x="413.00" y="297.80" font-size="9.5" text-anchor="middle" fill="#111">T28</text>
<text x="413.00" y="306.10" font-size="8.2" text-anchor="middle" fill="#111">大丰</text>
<text x="393.70" y="313.20" font-size="6.3" fill="#111">9*6</text>
<text x="430.00" y="313.20" font-size="8.5" text-anchor="end" fill="#111">54㎡</text>
<rect x="447.70" y="206.70" width="25.60" height="94.30" fill="#fe9cb9" stroke="#1a1a1a" stroke-width="0.7"/>
<text x="460.30" y="242.30" font-size="11" text-anchor="middle" fill="#111">T60</text>
<text x="460.50" y="260.00" font-size="10.5" text-anchor="middle" fill="#111">心义</text>
<text x="460.70" y="273.30" font-size="8" text-anchor="middle" fill="#111">126㎡</text>
<text x="448.30" y="300.00" font-size="6.3" fill="#111">6*21</text>
<rect x="488.30" y="206.70" width="15.70" height="26.60" fill="#fe9cb9" stroke="#1a1a1a" stroke-width="0.7"/>
<text x="496.20" y="213.30" font-size="6" text-anchor="middle" fill="#111">T66</text>
<text x="496.20" y="220.00" font-size="6" text-anchor="middle" fill="#111">华篮</text>
<text x="496.20" y="226.80" font-size="6" text-anchor="middle" fill="#111">24㎡</text>
<text x="496.20" y="232.60" font-size="6" text-anchor="middle" fill="#111">4*6</text>
<rect x="488.30" y="246.70" width="15.00" height="55.00" fill="#fe9cb9" stroke="#1a1a1a" stroke-width="0.7"/>
<line x1="488.30" y1="274.00" x2="503.30" y2="274.00" stroke="#1a1a1a" stroke-width="0.7"/>
<text x="495.80" y="254.00" font-size="3.6" text-anchor="middle" fill="#333">16-17</text>
<text x="495.80" y="279.30" font-size="3.6" text-anchor="middle" fill="#333">13-15</text>
<rect x="461.00" y="316.70" width="25.00" height="26.00" fill="#fe9cb9" stroke="#1a1a1a" stroke-width="0.7"/>
<text x="473.50" y="325.70" font-size="9.5" text-anchor="middle" fill="#111">T58</text>
<text x="473.50" y="334.70" font-size="7.5" text-anchor="middle" fill="#111">九齐</text>
<text x="461.80" y="341.80" font-size="4.8" fill="#111">6*6</text>
<text x="485.60" y="341.80" font-size="5.6" text-anchor="end" fill="#111">36㎡</text>
<rect x="392.70" y="328.30" width="55.60" height="21.70" fill="#fe9cb9" stroke="#1a1a1a" stroke-width="0.7"/>
<text x="399.20" y="339.00" font-size="10" fill="#111">T36</text>
<text x="419.30" y="338.80" font-size="7.8" fill="#111">勒克斯</text>
<text x="394.00" y="348.50" font-size="6.3" fill="#111">12*4.5</text>
<text x="447.70" y="348.50" font-size="8" text-anchor="end" fill="#111">54㎡</text>
<rect x="392.70" y="350.00" width="55.60" height="22.30" fill="#fe9cb9" stroke="#1a1a1a" stroke-width="0.7"/>
<text x="399.20" y="359.50" font-size="10" fill="#111">T32</text>
<text x="419.30" y="359.30" font-size="7.2" fill="#111">昊运</text>
<text x="394.00" y="371.00" font-size="6.3" fill="#111">12*4.5</text>
<text x="447.70" y="371.00" font-size="8" text-anchor="end" fill="#111">54㎡</text>
<rect x="392.70" y="384.00" width="53.00" height="39.30" fill="#fe9cb9" stroke="#1a1a1a" stroke-width="0.7"/>
<text x="420.00" y="395.00" font-size="10.3" text-anchor="middle" fill="#111">T26</text>
<text x="420.30" y="407.30" font-size="10.3" text-anchor="middle" fill="#111">重诺</text>
<text x="420.60" y="416.70" font-size="7.5" text-anchor="middle" fill="#111">108㎡</text>
<text x="393.50" y="422.30" font-size="6.3" fill="#111">12*9</text>
<rect x="392.70" y="436.70" width="54.00" height="40.60" fill="#fe9cb9" stroke="#1a1a1a" stroke-width="0.7"/>
<text x="420.00" y="448.30" font-size="10.3" text-anchor="middle" fill="#111">T22</text>
<text x="420.30" y="460.70" font-size="10.3" text-anchor="middle" fill="#111">桂冠</text>
<text x="420.60" y="470.00" font-size="7.5" text-anchor="middle" fill="#111">108㎡</text>
<text x="393.50" y="475.70" font-size="6.3" fill="#111">12*9</text>
<rect x="391.70" y="492.50" width="69.80" height="55.20" fill="#fe9cb9" stroke="#1a1a1a" stroke-width="0.7"/>
<text x="426.70" y="508.30" font-size="10.3" text-anchor="middle" fill="#111">T20</text>
<text x="427.00" y="523.30" font-size="11.2" text-anchor="middle" fill="#111">广元</text>
<text x="427.30" y="534.00" font-size="7.5" text-anchor="middle" fill="#111">180㎡</text>
<text x="392.50" y="545.70" font-size="6.3" fill="#111">15*12</text>
<rect x="461.00" y="356.70" width="40.70" height="53.30" fill="#fe9cb9" stroke="#1a1a1a" stroke-width="0.7"/>
<text x="481.50" y="368.30" font-size="10.3" text-anchor="middle" fill="#111">T50</text>
<text x="481.80" y="380.00" font-size="10.2" text-anchor="middle" fill="#111">汇隆</text>
<text x="481.80" y="393.30" font-size="10.2" text-anchor="middle" fill="#111">日照华宁</text>
<text x="482.10" y="401.70" font-size="7.5" text-anchor="middle" fill="#111">108㎡</text>
<text x="461.80" y="409.00" font-size="6.3" fill="#111">9*12</text>
<rect x="461.00" y="424.30" width="40.70" height="53.00" fill="#fe9cb9" stroke="#1a1a1a" stroke-width="0.7"/>
<text x="481.50" y="439.30" font-size="10.3" text-anchor="middle" fill="#111">T48</text>
<text x="481.80" y="454.00" font-size="10.3" text-anchor="middle" fill="#111">瑞志</text>
<text x="482.10" y="466.70" font-size="7.5" text-anchor="middle" fill="#111">108㎡</text>
<text x="461.80" y="475.70" font-size="6.3" fill="#111">9*12</text>
<rect x="474.30" y="491.70" width="28.40" height="16.00" fill="#fe9cb9" stroke="#1a1a1a" stroke-width="0.7"/>
<text x="476.00" y="498.50" font-size="6" fill="#111">T56</text>
<text x="488.50" y="498.50" font-size="6" fill="#111">歌谷</text>
<text x="475.50" y="506.70" font-size="4.8" fill="#111">6*3</text>
<text x="502.00" y="506.70" font-size="5.6" text-anchor="end" fill="#111">18㎡</text>
<rect x="474.30" y="520.00" width="27.40" height="39.30" fill="#fe9cb9" stroke="#1a1a1a" stroke-width="0.7"/>
<text x="487.80" y="529.30" font-size="10.3" text-anchor="middle" fill="#111">T52</text>
<text x="488.10" y="541.50" font-size="10.3" text-anchor="middle" fill="#111">良工</text>
<text x="488.40" y="551.00" font-size="8" text-anchor="middle" fill="#111">54㎡</text>
<text x="475.10" y="558.30" font-size="6.3" fill="#111">6*9</text>
<rect x="447.70" y="574.30" width="41.30" height="26.40" fill="#fe9cb9" stroke="#1a1a1a" stroke-width="0.7"/>
<text x="468.35" y="583.80" font-size="9.5" text-anchor="middle" fill="#111">T46</text>
<text x="468.35" y="592.10" font-size="8.2" text-anchor="middle" fill="#111">永泰</text>
<text x="448.70" y="599.60" font-size="6.3" fill="#111">9*6</text>
<text x="486.00" y="599.60" font-size="8.5" text-anchor="end" fill="#111">54㎡</text>
<rect x="447.70" y="615.00" width="41.30" height="27.30" fill="#fe9cb9" stroke="#1a1a1a" stroke-width="0.7"/>
<text x="468.35" y="624.50" font-size="9.5" text-anchor="middle" fill="#111">T42</text>
<text x="468.35" y="632.80" font-size="8.2" text-anchor="middle" fill="#111">纳康</text>
<text x="448.70" y="641.20" font-size="6.3" fill="#111">9*6</text>
<text x="486.00" y="641.20" font-size="8.5" text-anchor="end" fill="#111">54㎡</text>
</g>
<g id="header">
<text x="303.80" y="53.50" font-size="18.1" text-anchor="middle" font-family="'Noto Sans CJK SC','Liberation Sans',sans-serif" font-weight="700" fill="#111">2024第四届中国(长春)中高端粮农产品展</text>
<text x="303.50" y="77.00" font-size="17.9" text-anchor="middle" font-family="'Noto Sans CJK SC','Liberation Sans',sans-serif" font-weight="700" fill="#111">暨全国鲜食玉米产业博览会</text>
<text x="306.00" y="99.70" font-size="17.5" text-anchor="middle" font-family="'Noto Sans CJK SC','Liberation Sans',sans-serif" font-weight="700" fill="#111" letter-spacing="1.75">7号馆展位图</text>
<text x="160.70" y="116.50" font-size="12.3" font-family="'Noto Sans CJK SC','Liberation Sans',sans-serif" font-weight="500" fill="#111" textLength="104.6" lengthAdjust="spacingAndGlyphs">2024年3月16-17日</text>
<text x="269.60" y="116.50" font-size="12.2" font-family="'Noto Sans CJK SC','Liberation Sans',sans-serif" font-weight="500" fill="#111">长春国际会展中心6号馆、7号馆</text>
<text x="455.00" y="126.60" font-size="9.2" font-family="'DejaVu Sans','Liberation Sans','Noto Sans CJK SC',sans-serif" fill="#111" stroke="#111" stroke-width="0.2">展览面积：</text>
<text x="506.00" y="126.20" font-size="8.3" font-family="'DejaVu Sans','Liberation Sans','Noto Sans CJK SC',sans-serif" fill="#111" textLength="38.5" lengthAdjust="spacingAndGlyphs" stroke="#111" stroke-width="0.25">24000㎡</text>
<circle cx="519" cy="103.5" r="15.3" fill="none" stroke="#7adfea" stroke-width="1"/>
<path d="M519,89 L516.2,119 H522.2 Z" stroke="#22d3e6" stroke-width="0.2" fill="#1fd8e8"/>
<text transform="translate(519,85.8) scale(1,0.68)" font-size="9" text-anchor="middle" fill="#a5e6ee" font-family="'Noto Sans CJK SC',sans-serif" font-weight="300">北</text>
<text transform="translate(179.2,707.4) skewX(-10) scale(0.82,1)" font-size="19" font-family="'DejaVu Sans','Liberation Sans',sans-serif" font-weight="200" fill="#444">7</text>
<text transform="translate(193.6,706.3) scale(0.69,1)" font-size="14" font-family="'Liberation Serif','Noto Serif CJK SC',serif" font-weight="600" fill="#3a3a3a">号馆展位图</text>
<line x1="159.00" y1="714.40" x2="249.00" y2="714.40" stroke="#555" stroke-width="0.8"/>
<rect x="169.30" y="721.20" width="9.40" height="4.60" fill="#fff" stroke="#e02020" stroke-width="0.8"/>
<path d="M169.3,721.2 H178.7 V725.8 Z" stroke="none" stroke-width="0" fill="#e02020"/>
<text transform="translate(183,727.6) scale(0.6,1)" font-size="8.3" font-family="'Liberation Serif','Noto Serif CJK SC',serif" font-weight="900" fill="#222">消火栓</text>
<rect x="204.80" y="721.20" width="9.20" height="4.60" fill="#fff" stroke="#9be8b0" stroke-width="0.6"/>
<path d="M204.8,721.2 H214 V725.8 Z" stroke="none" stroke-width="0" fill="#22d04f"/>
<text transform="translate(220,727.6) scale(0.6,1)" font-size="8.3" font-family="'Liberation Serif','Noto Serif CJK SC',serif" font-weight="900" fill="#222">主配电柜</text>
<line x1="171.60" y1="741.40" x2="175.60" y2="741.40" stroke="#444" stroke-width="0.8"/>
<text transform="translate(182.6,745.6) scale(0.61,1)" font-size="8.3" font-family="'Liberation Serif','Noto Serif CJK SC',serif" font-weight="900" fill="#222">厅内柱子</text>
<path d="M205.6,746 L210.8,737.4 L216,746 Z" stroke="#efe52f" stroke-width="0.3" fill="#f3ea38"/>
<text transform="translate(218,745.8) scale(0.58,1)" font-size="8.3" font-family="'Liberation Serif','Noto Serif CJK SC',serif" font-weight="900" fill="#222">交换机</text>
<text transform="translate(264.6,706.3) scale(0.8,1)" font-size="6.6" font-family="'Liberation Serif','Noto Serif CJK SC',serif" font-weight="900" fill="#222">注:</text>
<text x="276.80" y="706.30" font-size="6.5" font-family="'Liberation Sans',sans-serif" fill="#222">1.</text>
<text x="276.80" y="720.20" font-size="6.5" font-family="'Liberation Sans',sans-serif" fill="#222">2.</text>
<text x="276.80" y="734.40" font-size="6.5" font-family="'Liberation Sans',sans-serif" fill="#222">3.</text>
<text x="290" y="706.3" font-size="6.5" font-family="'Liberation Serif','Noto Serif CJK SC',serif" font-weight="900" fill="#222" textLength="130" lengthAdjust="spacingAndGlyphs">展馆四周消防器材及配电设备前的展板须打通背板或避让</text>
<text x="290" y="720.2" font-size="6.5" font-family="'Liberation Serif','Noto Serif CJK SC',serif" font-weight="900" fill="#222" textLength="58" lengthAdjust="spacingAndGlyphs">防火卷帘门下方不得占用,</text>
<text x="350" y="720.2" font-size="6.5" font-family="'Liberation Serif','Noto Serif CJK SC',serif" font-weight="900" fill="#222" textLength="53" lengthAdjust="spacingAndGlyphs">综合管线地井不能遮挡</text>
<text x="290" y="734.4" font-size="6.5" font-family="'Liberation Serif','Noto Serif CJK SC',serif" font-weight="900" fill="#222" textLength="30" lengthAdjust="spacingAndGlyphs">标准展位限高</text>
<text x="321.00" y="734.40" font-size="7" font-family="'Liberation Sans',sans-serif" fill="#222">3</text>
<text x="336.50" y="734.40" font-size="7" font-family="'Liberation Sans',sans-serif" fill="#222">m,</text>
<text x="345" y="734.4" font-size="6.5" font-family="'Liberation Serif','Noto Serif CJK SC',serif" font-weight="900" fill="#222" textLength="31" lengthAdjust="spacingAndGlyphs">特装展位限高</text>
<text x="378.00" y="734.40" font-size="7" font-family="'Liberation Sans',sans-serif" fill="#222">5m.</text>
<text x="392" y="734.4" font-size="6.5" font-family="'Liberation Serif','Noto Serif CJK SC',serif" font-weight="900" fill="#222" textLength="22" lengthAdjust="spacingAndGlyphs">货物门高</text>
<text x="414.80" y="734.40" font-size="7" font-family="'Liberation Sans',sans-serif" fill="#222" textLength="33" lengthAdjust="spacingAndGlyphs">4.8-6m</text>
</g>
</svg>
</body></html>
